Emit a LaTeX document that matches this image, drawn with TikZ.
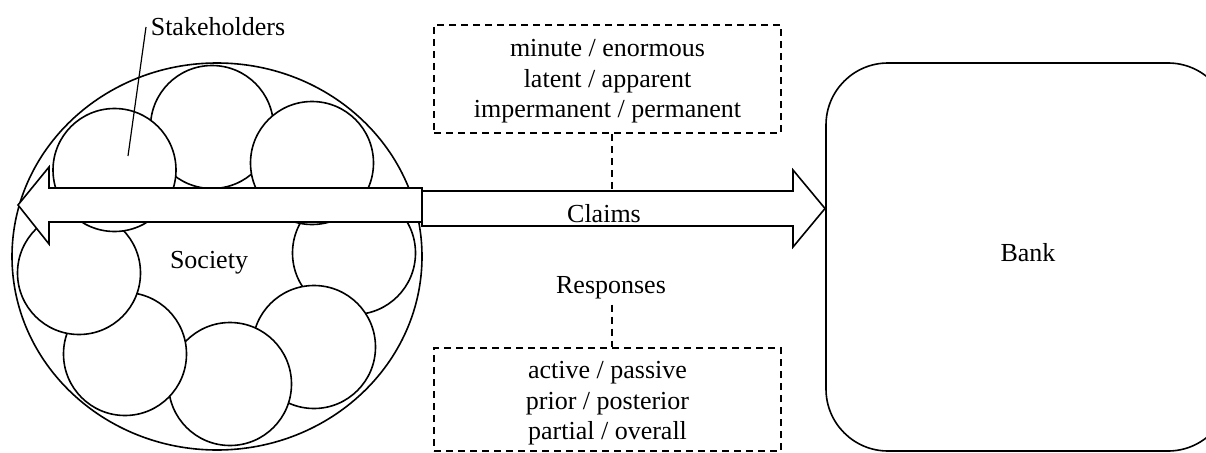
\documentclass[tikz,border=0pt]{standalone}
\usepackage{fontspec}
\setmainfont{Liberation Serif}
\begin{document}
\begin{tikzpicture}[x=1pt,y=-1pt,line width=1.6pt,
  lbl/.style={font=\fontsize{26}{30.5}\selectfont, inner sep=0pt},
  dashbox/.style={draw, dash pattern=on 7pt off 5pt, line width=1.5pt,
    minimum width=347pt, inner sep=0pt},
  boxtext/.style={align=center, font=\fontsize{26}{30.5}\selectfont, inner sep=0pt},
  dashline/.style={dash pattern=on 7pt off 5pt, line width=1.5pt},
  blob/.style={draw, fill=white, circle, minimum size=123pt, inner sep=0pt},
  bigarrow/.style={draw, fill=white, line join=miter},
  leader/.style={line width=1.2pt}]
\useasboundingbox (0,0) rectangle (1206,452);
\clip (0,0) rectangle (1206,452);
% society
\draw[fill=white] (217,256.5) ellipse [x radius=205pt, y radius=193.5pt];
\node[blob] (s4) at (354,253) {};
\node[blob] (s5) at (314,347) {};
\node[blob] (s6) at (230,384) {};
\node[blob] (s7) at (125,354) {};
\node[blob] (s8) at (79,273) {};
\node[blob] (s2) at (212,127) {};
\node[blob] (s3) at (312,163) {};
\node[blob] (s1) at (114.5,170) {};
\node[lbl] (society) at (209,262.5) {Society};
% stakeholders label
\node[lbl, anchor=west, inner xsep=4pt] (stk) at (146,27) {Stakeholders};
\coordinate (stkpt) at (128,156);
\draw[leader] (stk.west) -- (stkpt);
% claims arrow
\draw[bigarrow] (422,191) -- (793,191) -- (793,170) -- (825,208.5) -- (793,247) -- (793,226) -- (422,226) -- cycle;
% left arrow
\draw[bigarrow] (422,188) -- (49,188) -- (49,167) -- (18,205) -- (49,244) -- (49,222) -- (422,222) -- cycle;
\node[lbl] (claims) at (604,213.5) {Claims};
\coordinate (ctop) at (612,191);
% attribute box
\node[dashbox, minimum height=108pt] (attrs) at (607.5,79) {};
\node[boxtext] (attrstxt) at (607.5,81.5)
  {minute / enormous\\latent / apparent\\impermanent / permanent};
\draw[dashline] (attrs.south -| ctop) -- (ctop);
% responses
\node[lbl, inner ysep=5pt] (resp) at (611,287.5) {Responses};
\node[dashbox, minimum height=103pt] (resps) at (607.5,399.5) {};
\node[boxtext] (respstxt) at (607.5,403.5)
  {active / passive\\prior / posterior\\partial / overall};
\draw[dashline] (resp.south -| ctop) -- (resps.north -| ctop);
% bank
\node[draw, rounded corners=62pt, minimum width=404pt, minimum height=388pt, inner sep=0pt] (bank) at (1028,257) {};
\node[lbl] (banklbl) at (1028,253) {Bank};
\end{tikzpicture}
\end{document}
